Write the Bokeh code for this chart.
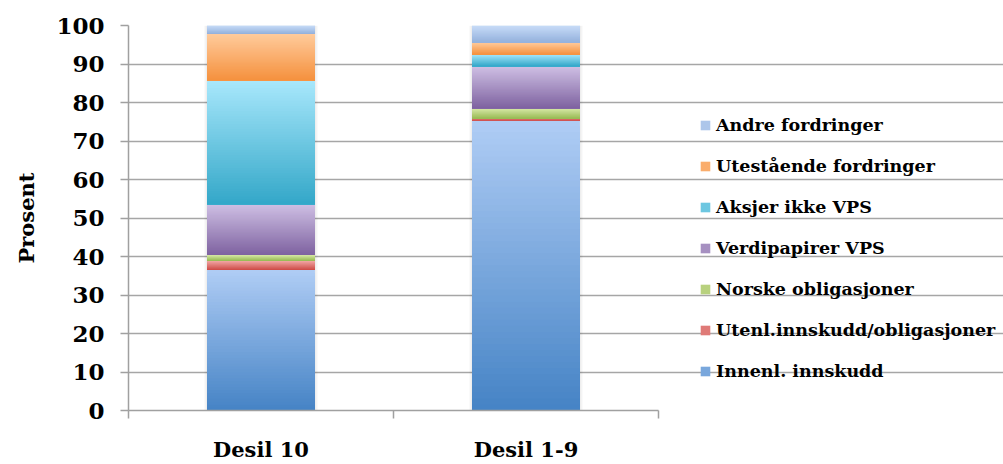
from bokeh.plotting import figure
from bokeh.models import (ColumnDataSource, Range1d, FixedTicker, Legend, LegendItem)
from bokeh.embed import file_html
from bokeh.resources import INLINE

# Share of assets by type (percent), per decile group
categories = ["Desil 10", "Desil 1-9"]
series_names = [
    "Innenl. innskudd",
    "Utenl.innskudd/obligasjoner",
    "Norske obligasjoner",
    "Verdipapirer VPS",
    "Aksjer ikke VPS",
    "Utestående fordringer",
    "Andre fordringer",
]
innenl_innskudd = [36.5, 75.4]
utenl_innskudd = [2.4, 0.4]
norske_obligasjoner = [1.5, 2.7]
verdipapirer_vps = [13.2, 10.9]
aksjer_ikke_vps = [32.2, 3.1]
utestaende_fordringer = [12.0, 3.1]
andre_fordringer = [2.2, 4.4]
series_values = [innenl_innskudd, utenl_innskudd, norske_obligasjoner,
                 verdipapirer_vps, aksjer_ikke_vps, utestaende_fordringer,
                 andre_fordringer]
y_ticks = list(range(0, 101, 10))

# (top colour, bottom colour) for each segment's vertical gradient
gradients = [
    ("#b0cdf5", "#4583c5"),
    ("#f2aaa8", "#cd4b48"),
    ("#d9eaaa", "#98b954"),
    ("#cfc0e4", "#7e62a0"),
    ("#a9e8fc", "#33a7c8"),
    ("#ffcb9c", "#f5913e"),
    ("#c8dcf8", "#93b1dc"),
]

FONT = "DejaVu Serif"
N_SLICES = 48
BAR_WIDTH = 0.407

# layout: the frame reaches the right edge so the legend can sit beside the
# plotting area; axis and grid are bounded to the category span
WIDTH, HEIGHT = 1003, 464
LEFT, TOP, BOTTOM = 128, 25, 53
PLOT_W = 530
FRAME_W = WIDTH - LEFT
FRAME_H = HEIGHT - TOP - BOTTOM
n_cat = len(categories)
x_end = n_cat * FRAME_W / PLOT_W
px_x = x_end / FRAME_W      # one screen pixel in x data units
px_y = 100 / FRAME_H        # one screen pixel in y data units


def hex_to_rgb(h):
    h = h.lstrip("#")
    return tuple(int(h[i:i + 2], 16) for i in (0, 2, 4))


def mix(c_top, c_bot, t):
    a, b = hex_to_rgb(c_top), hex_to_rgb(c_bot)
    return "#%02x%02x%02x" % tuple(round(b[i] + (a[i] - b[i]) * t) for i in range(3))


p = figure(width=WIDTH, height=HEIGHT, output_backend="svg", toolbar_location=None,
           x_range=Range1d(0, x_end), y_range=Range1d(0, 100),
           min_border_left=LEFT, min_border_right=0, min_border_top=TOP,
           min_border_bottom=BOTTOM)
p.outline_line_color = None
p.background_fill_color = "white"
p.border_fill_color = "white"

x_pos = [i + 0.5 for i in range(n_cat)]
totals = [sum(col) for col in zip(*series_values)]

# soft drop shadow behind each stacked bar
for grow in (6, 4, 2):
    p.vbar(x=x_pos, bottom=0, top=[t + grow * px_y * 0.5 for t in totals],
           width=BAR_WIDTH + grow * px_x, fill_color="black", fill_alpha=0.025,
           line_color=None)

base = [0.0] * n_cat
renderers = []
for name, vals, (c_top, c_bot) in zip(series_names, series_values, gradients):
    xs, bottoms, tops, colors = [], [], [], []
    # each slice runs from the segment bottom up to its own height; tallest
    # (lightest) slices are drawn first so the stack forms a seamless gradient
    for k in range(N_SLICES - 1, -1, -1):
        t = (k + 0.5) / N_SLICES
        for j, v in enumerate(vals):
            xs.append(x_pos[j])
            bottoms.append(base[j])
            tops.append(base[j] + v * (k + 1) / N_SLICES)
            colors.append(mix(c_top, c_bot, t))
    src = ColumnDataSource(dict(x=xs, bottom=bottoms, top=tops, color=colors))
    r = p.vbar(x="x", bottom="bottom", top="top", width=BAR_WIDTH, source=src,
               fill_color="color", line_color=None)
    renderers.append(r)
    base = [b + v for b, v in zip(base, vals)]

# y axis
yax = p.yaxis[0]
yax.ticker = FixedTicker(ticks=y_ticks)
yax.axis_label = "Prosent"
yax.axis_label_text_font = FONT
yax.axis_label_text_font_style = "bold"
yax.axis_label_text_font_size = "21px"
yax.axis_label_text_color = "black"
yax.axis_label_standoff = 14
yax.major_label_text_font = FONT
yax.major_label_text_font_style = "bold"
yax.major_label_text_font_size = "23px"
yax.major_label_text_color = "black"
yax.major_label_standoff = 16
yax.axis_line_color = "#a0a0a0"
yax.axis_line_width = 1.5
yax.major_tick_line_color = "#a0a0a0"
yax.major_tick_line_width = 1.5
yax.major_tick_in = 0
yax.major_tick_out = 8
yax.minor_tick_line_color = None

# x axis: labels at bar centres, tick marks on category boundaries
xax = p.xaxis[0]
xax.bounds = (0, n_cat)
xax.ticker = FixedTicker(ticks=x_pos, minor_ticks=list(range(n_cat + 1)))
xax.major_label_overrides = {x: c for x, c in zip(x_pos, categories)}
xax.major_label_text_font = FONT
xax.major_label_text_font_style = "bold"
xax.major_label_text_font_size = "21px"
xax.major_label_text_line_height = 0.8
xax.major_label_text_color = "black"
xax.major_label_standoff = 18
xax.axis_line_color = "#a0a0a0"
xax.axis_line_width = 1.5
xax.major_tick_line_color = None
xax.major_tick_in = 0
xax.major_tick_out = 0
xax.minor_tick_line_color = "#a0a0a0"
xax.minor_tick_line_width = 1.5
xax.minor_tick_in = 0
xax.minor_tick_out = 8

p.xgrid.grid_line_color = None
p.ygrid.ticker = FixedTicker(ticks=y_ticks)
p.ygrid.bounds = (0, n_cat)
p.ygrid.grid_line_color = "#a6a6a6"
p.ygrid.grid_line_width = 1.5

items = [LegendItem(label=n, renderers=[r], index=N_SLICES // 2 * n_cat)
         for n, r in zip(series_names, renderers)]
legend = Legend(items=items[::-1], location=(571, 29), orientation="vertical",
                padding=0, margin=0, spacing=21, label_height=20,
                glyph_width=12, glyph_height=12, label_standoff=5,
                label_text_font=FONT, label_text_font_style="bold",
                label_text_font_size="17.5px", label_text_color="black",
                background_fill_alpha=0, border_line_color=None)
p.add_layout(legend, "center")

open("out.html", "w").write(file_html(p, INLINE))
